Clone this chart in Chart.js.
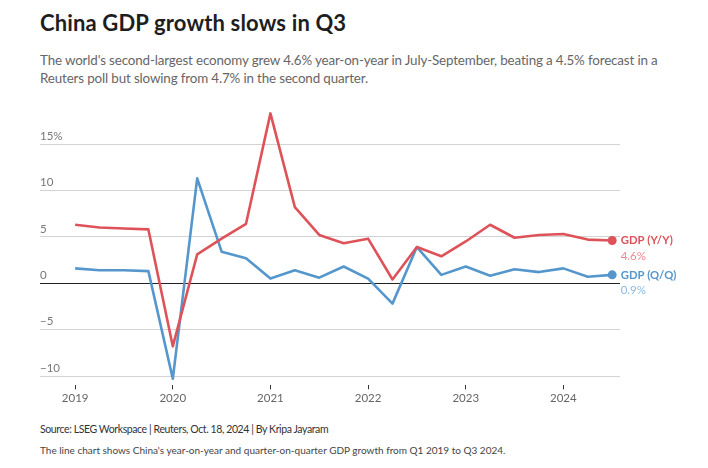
<!DOCTYPE html>
<html>
<head>
<meta charset="utf-8">
<script src="https://cdn.jsdelivr.net/npm/chart.js@4.4.1/dist/chart.umd.min.js"></script>
<style>
  html, body { margin: 0; padding: 0; background: #fff; }
  body { width: 708px; height: 468px; position: relative; overflow: hidden; font-family: Lato, "Noto Sans", sans-serif; }
  #title { position: absolute; left: 40px; top: 9px; font-size: 22px; font-weight: 700; color: #1e1e1e; white-space: nowrap; letter-spacing: 0.15px; }
  #sub { position: absolute; left: 40px; top: 51px; font-size: 13.4px; line-height: 18px; color: #666; white-space: nowrap; letter-spacing: -0.15px; }
  #src { position: absolute; left: 40px; top: 423px; font-size: 10.5px; color: #333; white-space: nowrap; letter-spacing: -0.4px; }
  #desc { position: absolute; left: 40px; top: 444px; font-size: 10px; color: #444; white-space: nowrap; }
  #wrap { position: absolute; left: 0; top: 100px; width: 708px; height: 320px; }
</style>
</head>
<body>
<div id="title">China GDP growth slows in Q3</div>
<div id="sub">The world's second-largest economy grew 4.6% year-on-year in July-September, beating a 4.5% forecast in a<br>Reuters poll but slowing from 4.7% in the second quarter.</div>
<div id="wrap"><canvas id="c" width="708" height="320"></canvas></div>
<div id="src">Source: LSEG Workspace | Reuters, Oct. 18, 2024 | By Kripa Jayaram</div>
<div id="desc">The line chart shows China's year-on-year and quarter-on-quarter GDP growth from Q1 2019 to Q3 2024.</div>
<script>
const quarters = [
  '2019 Q1','2019 Q2','2019 Q3','2019 Q4',
  '2020 Q1','2020 Q2','2020 Q3','2020 Q4',
  '2021 Q1','2021 Q2','2021 Q3','2021 Q4',
  '2022 Q1','2022 Q2','2022 Q3','2022 Q4',
  '2023 Q1','2023 Q2','2023 Q3','2023 Q4',
  '2024 Q1','2024 Q2','2024 Q3'
];
const gdpYoY = [6.3, 6.0, 5.9, 5.8, -6.8, 3.1, 4.8, 6.4, 18.3, 8.2, 5.2, 4.3, 4.8, 0.4, 3.9, 2.9, 4.5, 6.3, 4.9, 5.2, 5.3, 4.7, 4.6];
const gdpQoQ = [1.6, 1.4, 1.4, 1.3, -10.3, 11.3, 3.4, 2.7, 0.5, 1.4, 0.6, 1.8, 0.5, -2.2, 3.9, 0.9, 1.8, 0.8, 1.5, 1.2, 1.6, 0.7, 0.9];
const yearTicks = [2019, 2020, 2021, 2022, 2023, 2024];
const yTicks = [-10, -5, 0, 5, 10, 15];
const seriesNames = ['GDP (Y/Y)', 'GDP (Q/Q)'];
const lastValues = ['4.6%', '0.9%'];

const RED = '#de5359', BLUE = '#5597cc';
const RED_L = '#e9898d', BLUE_L = '#8ebadf';

function qx(label) {
  const [y, q] = label.split(' Q');
  return Number(y) + (Number(q) - 1) / 4;
}
function pts(vals) { return vals.map((v, i) => ({ x: qx(quarters[i]), y: v })); }
const lastIdx = quarters.length - 1;

const endLabels = {
  id: 'endLabels',
  afterDatasetsDraw(chart) {
    const ctx = chart.ctx;
    const colors = [[RED, RED_L], [BLUE, BLUE_L]];
    chart.data.datasets.forEach((ds, i) => {
      const el = chart.getDatasetMeta(i).data[lastIdx];
      ctx.save();
      ctx.textAlign = 'left';
      ctx.textBaseline = 'middle';
      ctx.font = 'bold 11.3px Lato, "Noto Sans", sans-serif';
      ctx.fillStyle = colors[i][0];
      ctx.fillText(seriesNames[i], el.x + 8.5, el.y);
      ctx.font = '11.5px Lato, "Noto Sans", sans-serif';
      ctx.fillStyle = colors[i][1];
      ctx.fillText(lastValues[i], el.x + 8.5, el.y + 15.5);
      ctx.restore();
    });
  }
};

new Chart(document.getElementById('c'), {
  type: 'line',
  data: {
    datasets: [
      { label: seriesNames[0], data: pts(gdpYoY), borderColor: RED, backgroundColor: RED, borderWidth: 2.6,
        pointRadius: c => c.dataIndex === lastIdx ? 4.5 : 0, pointBorderWidth: 0, tension: 0, borderJoinStyle: 'round' },
      { label: seriesNames[1], data: pts(gdpQoQ), borderColor: BLUE, backgroundColor: BLUE, borderWidth: 2.6,
        pointRadius: c => c.dataIndex === lastIdx ? 4.5 : 0, pointBorderWidth: 0, tension: 0, borderJoinStyle: 'round' }
    ]
  },
  options: {
    responsive: false,
    animation: false,
    events: [],
    layout: { padding: { left: 40, right: 88, top: 6.3, bottom: 4.7 } },
    plugins: { legend: { display: false }, tooltip: { enabled: false }, title: { display: false } },
    scales: {
      x: {
        type: 'linear',
        min: 2018.64, max: 2024.58,
        afterBuildTicks: s => { s.ticks = yearTicks.map(v => ({ value: v })); },
        afterFit: s => { s.height = 30; },
        grid: { drawOnChartArea: false, drawTicks: true, tickLength: 4, tickColor: '#333', tickWidth: 1 },
        border: { display: false },
        ticks: { color: '#666', font: { size: 11.5, family: 'Lato, "Noto Sans", sans-serif' }, padding: 2, callback: v => String(v), maxRotation: 0 }
      },
      y: {
        type: 'linear',
        min: -11, max: 19,
        afterBuildTicks: s => { s.ticks = yTicks.map(v => ({ value: v })); },
        afterFit: s => { s.width = 0; },
        grid: { drawTicks: false, color: c => c.tick && c.tick.value === 0 ? '#222' : '#d3d3d3', lineWidth: 1 },
        border: { display: false },
        ticks: {
          mirror: true, padding: 0, labelOffset: -8, color: '#777',
          font: { size: 11.5, family: 'Lato, "Noto Sans", sans-serif' },
          callback: v => v === 15 ? '15%' : (v < 0 ? '\u2212' + Math.abs(v) : String(v))
        }
      }
    }
  },
  plugins: [endLabels]
});
</script>
</body>
</html>
